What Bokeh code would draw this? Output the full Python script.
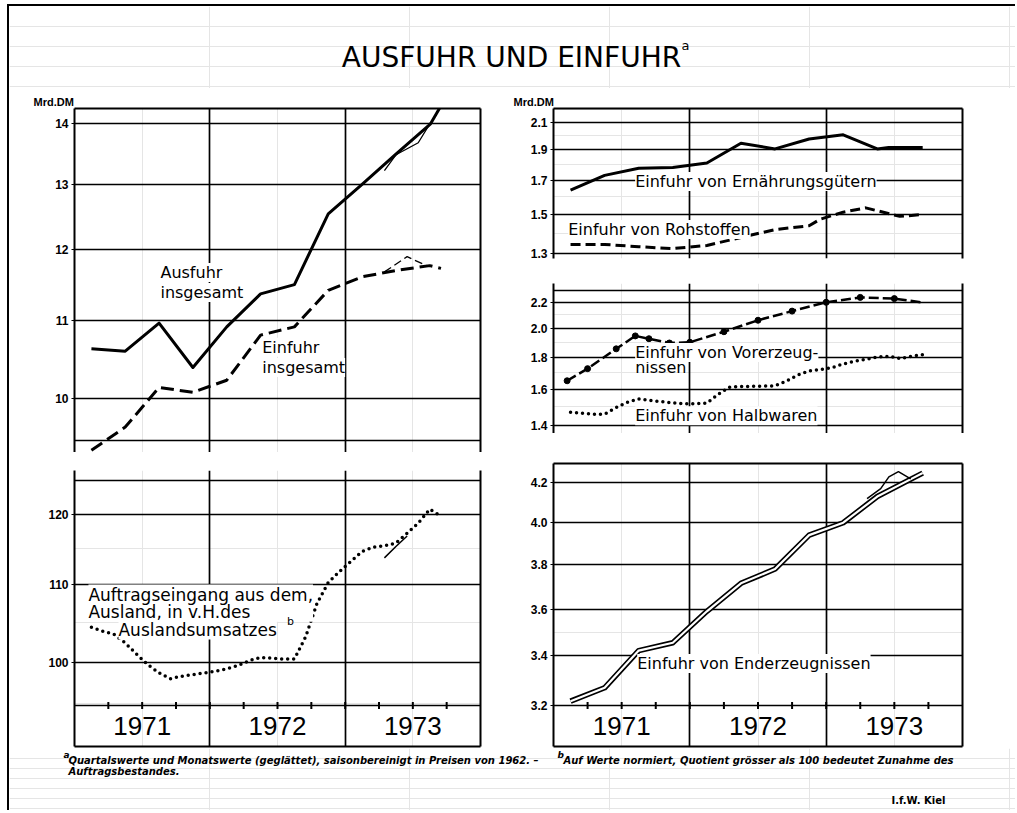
from bokeh.plotting import figure
from bokeh.layouts import column, row
from bokeh.models import (Range1d, FixedTicker, LogAxis, LinearAxis, Label, Grid, Div, Spacer,
                          PrintfTickFormatter)
from bokeh.core.properties import value
from bokeh.embed import file_html
from bokeh.resources import INLINE

LABEL_FONT = "DejaVu Sans"
AX_FONT = "Liberation Sans"

# ---------------- data ----------------
years = [1971, 1972, 1973]
year_labels = ["1971", "1972", "1973"]

# monthly time points Feb 1971 .. Sep 1973 (mid-month, decimal years)
months = [1971 + (k + 0.5) / 12 for k in range(1, 33)]

# Ausfuhr insgesamt (Mrd. DM)
ausfuhr_t = [1971.125, 1971.375, 1971.625, 1971.875, 1972.125, 1972.375, 1972.625, 1972.875,
             1973.125, 1973.375, 1973.631, 1973.717]
ausfuhr_v = [10.63, 10.60, 10.97, 10.39, 10.92, 11.37, 11.50, 12.54, 13.00, 13.49, 14.00, 14.35]
ausfuhr_m_t = [1973.29, 1973.375, 1973.458, 1973.54, 1973.631]
ausfuhr_m_v = [13.22, 13.48, 13.58, 13.68, 14.02]

# Einfuhr insgesamt (Mrd. DM)
einfuhr_t = [1971.125, 1971.375, 1971.625, 1971.875, 1972.125, 1972.375, 1972.625, 1972.875,
             1973.125, 1973.375, 1973.625, 1973.708]
einfuhr_v = [9.39, 9.66, 10.14, 10.08, 10.23, 10.81, 10.92, 11.42, 11.61, 11.70, 11.77, 11.73]
einfuhr_m_t = [1973.29, 1973.458, 1973.60]
einfuhr_m_v = [11.68, 11.90, 11.77]

# Auftragseingang aus dem Ausland in v.H. des Auslandsumsatzes (monthly, Feb 71 - Sep 73)
auftrag_v = [104.4, 103.9, 103.5, 102.4, 101.0, 99.7, 98.7, 98.0, 98.3, 98.5, 98.7, 98.9,
             99.2, 99.6, 100.2, 100.6, 100.5, 100.4, 100.4, 103.2, 107.5, 110.3, 111.8, 113.2,
             114.6, 115.2, 115.4, 115.8, 117.2, 118.7, 120.7, 119.7]
auftrag_m_t = [1973.29, 1973.375, 1973.458]
auftrag_m_v = [113.7, 115.3, 116.8]

# Einfuhr von Ernaehrungsguetern
ernaehr_t = [1971.125, 1971.375, 1971.625, 1971.875, 1972.125, 1972.375, 1972.625, 1972.875,
             1973.125, 1973.375, 1973.458, 1973.542, 1973.708]
ernaehr_v = [1.64, 1.73, 1.775, 1.78, 1.81, 1.945, 1.905, 1.975, 2.005, 1.905, 1.915, 1.915, 1.915]

# Einfuhr von Rohstoffen
rohst_t = [1971.125, 1971.375, 1971.625, 1971.875, 1972.125, 1972.375, 1972.625, 1972.875,
           1972.958, 1973.125, 1973.29, 1973.54, 1973.625, 1973.708]
rohst_v = [1.345, 1.345, 1.334, 1.325, 1.34, 1.38, 1.42, 1.44, 1.475, 1.513, 1.537, 1.49, 1.495, 1.50]

# Einfuhr von Vorerzeugnissen
vorerz_t = [1971.1, 1971.25, 1971.46, 1971.6, 1971.7, 1971.85, 1972.0, 1972.25, 1972.5, 1972.75,
            1973.0, 1973.25, 1973.5, 1973.7]
vorerz_v = [1.65, 1.725, 1.855, 1.945, 1.925, 1.895, 1.90, 1.975, 2.06, 2.13, 2.20, 2.24, 2.23, 2.20]

# Einfuhr von Halbwaren (monthly, Feb 71 - Sep 73)
halbw_v = [1.47, 1.465, 1.46, 1.46, 1.495, 1.525, 1.544, 1.535, 1.528, 1.522, 1.517, 1.517,
           1.52, 1.57, 1.612, 1.615, 1.617, 1.618, 1.62, 1.648, 1.685, 1.71, 1.72, 1.73,
           1.755, 1.772, 1.785, 1.80, 1.805, 1.79, 1.805, 1.815]

# Einfuhr von Enderzeugnissen
enderz_t = [1971.125, 1971.375, 1971.625, 1971.875, 1972.125, 1972.375, 1972.625, 1972.875,
            1973.125, 1973.375, 1973.625, 1973.708]
enderz_v = [3.217, 3.27, 3.422, 3.455, 3.59, 3.715, 3.78, 3.94, 4.0, 4.13, 4.22, 4.25]
enderz_m_t = [1973.3, 1973.4, 1973.46, 1973.53, 1973.62]
enderz_m_v = [4.12, 4.17, 4.23, 4.258, 4.22]

# axis ticks / labels
ul_grid = [9.5, 10, 11, 12, 13, 14]
ul_labels = [10, 11, 12, 13, 14]
ll_band_top = 94.82           # time axis line of the lower-left panel
ll_grid = [ll_band_top, 100, 110, 120, 125]
ll_labels = [100, 110, 120]
ur_grid = [1.3, 1.5, 1.7, 1.9, 2.1]
ur_labels = [1.3, 1.5, 1.7, 1.9, 2.1]
mr_grid = [1.4, 1.6, 1.8, 2.0, 2.2, 2.3]
mr_labels = [1.4, 1.6, 1.8, 2.0, 2.2]
lr_band_top = 3.2             # time axis line of the lower-right panel
lr_grid = [3.2, 3.4, 3.6, 3.8, 4.0, 4.2]
lr_labels = [3.2, 3.4, 3.6, 3.8, 4.0, 4.2]

X0, X1 = years[0], years[-1] + 1
year_bounds = years[1:]
quarter_ticks = [y + q / 4 for y in years for q in range(4)][1:]


# ---------------- helpers ----------------
def bare_axis(cls):
    return cls(ticker=FixedTicker(ticks=[]), axis_line_color="black", axis_line_width=2,
               major_tick_in=0, major_tick_out=0, minor_tick_in=0, minor_tick_out=0,
               major_label_text_font_size="0px", major_label_standoff=0)


def panel(w, h, y_lo, y_hi, grid_vals, label_vals, fmt, mbl, mbr, mbt, mbb,
          top=False, bottom=False, unit=None, unit_offset=0):
    p = figure(width=w, height=h, x_range=Range1d(X0, X1), y_range=Range1d(y_lo, y_hi),
               y_axis_type="log", x_axis_location=None, y_axis_location=None,
               output_backend="svg", toolbar_location=None, title=unit,
               min_border_left=mbl, min_border_right=mbr, min_border_top=mbt,
               min_border_bottom=mbb, outline_line_color=None)
    p.add_layout(Grid(dimension=1, ticker=FixedTicker(ticks=grid_vals),
                      grid_line_color="black", grid_line_width=1.7))
    p.add_layout(Grid(dimension=0, ticker=FixedTicker(ticks=year_bounds),
                      grid_line_color="black", grid_line_width=1.7))
    yax = LogAxis(ticker=FixedTicker(ticks=label_vals), formatter=PrintfTickFormatter(format=fmt),
                  axis_line_width=2, major_tick_out=3, major_tick_in=0,
                  minor_tick_in=0, minor_tick_out=0, major_label_standoff=3,
                  major_label_text_font=AX_FONT, major_label_text_font_style="bold",
                  major_label_text_font_size="12px", major_label_text_color="black")
    p.add_layout(yax, "left")
    p.add_layout(bare_axis(LogAxis), "right")
    if top:
        p.add_layout(bare_axis(LinearAxis), "above")
    if bottom:
        p.add_layout(bare_axis(LinearAxis), "below")
    if unit:
        p.title.align = "left"
        p.title.offset = unit_offset
        p.title.standoff = 2
        p.title.text_font = AX_FONT
        p.title.text_font_size = "11px"
        p.title.text_font_style = "bold"
        p.title.text_color = "black"
    return p


def time_band(p, base, y_lo, frame_h):
    """Quarter ticks on the time-axis line and year labels in the band below it."""
    f = (p.y_range.end / y_lo) ** (3.5 / frame_h)   # 3.5 px in data units (log scale)
    p.segment(x0=quarter_ticks, x1=quarter_ticks, y0=[base / f] * len(quarter_ticks),
              y1=[base * f] * len(quarter_ticks), line_color="black", line_width=2)
    mid = (base * y_lo) ** 0.5
    p.text(x=[y + 0.5 for y in years], y=[mid] * len(years), text=year_labels,
           text_align="center", text_baseline="middle", text_font=value(AX_FONT),
           text_font_size="26px", text_color="black")


def label(p, x, y, text, size="16px", baseline="middle", bg="white", lh=1.2):
    p.add_layout(Label(x=x, y=y, text=text, text_font=LABEL_FONT, text_font_size=size,
                       text_baseline=baseline, text_align="left", text_color="black",
                       background_fill_color=bg, text_line_height=lh))


# ---------------- left column ----------------
ul = panel(501, 364, 9.364, 14.265, ul_grid, ul_labels, "%d", 65, 30, 20, 0,
           top=True, unit="Mrd.DM", unit_offset=-41)
ul.line(ausfuhr_t, ausfuhr_v, line_color="black", line_width=3, line_join="round")
ul.line(ausfuhr_m_t, ausfuhr_m_v, line_color="black", line_width=1.3)
ul.line(einfuhr_t, einfuhr_v, line_color="black", line_width=3, line_dash="13 6")
ul.line(einfuhr_m_t, einfuhr_m_v, line_color="black", line_width=1.3, line_dash="8 4")
label(ul, 1971.635, 11.67, "Ausfuhr")
label(ul, 1971.635, 11.39, "insgesamt")
label(ul, 1972.387, 10.65, "Einfuhr")
label(ul, 1972.387, 10.39, "insgesamt")

LL_LO = 90.16
ll = panel(501, 296, LL_LO, 126.6, ll_grid, ll_labels, "%d", 65, 30, 18, 2, bottom=True)
ll.line(months, auftrag_v, line_color="black", line_width=3.5, line_dash="0 6", line_cap="round")
ll.line(auftrag_m_t, auftrag_m_v, line_color="black", line_width=1.5)
time_band(ll, ll_band_top, LL_LO, 276)
label(ll, 1971.325, 104.1, "Auslandsumsatzes", size="17px")
label(ll, 1971.103, 110.03, "Auftragseingang aus dem,\nAusland, in v.H.des", size="17px",
      baseline="top", lh=0.86)
label(ll, 1972.57, 105.2, "b", size="11px", bg=None)

# ---------------- right column ----------------
ur = panel(499, 174, 1.278, 2.207, ur_grid, ur_labels, "%.1f", 43, 47, 20, 4,
           top=True, unit="Mrd.DM", unit_offset=-40)
ur.line(ernaehr_t, ernaehr_v, line_color="black", line_width=3, line_join="round")
ur.line(rohst_t, rohst_v, line_color="black", line_width=3, line_dash="10 5")
label(ur, 1971.599, 1.692, "Einfuhr von Ernährungsgütern")
label(ur, 1971.108, 1.42, "Einfuhr von Rohstoffen")

mr = panel(499, 171, 1.36, 2.357, mr_grid, mr_labels, "%.1f", 43, 47, 21, 0)
mr.line(vorerz_t, vorerz_v, line_color="black", line_width=2.5, line_dash="10 4")
mr.scatter(vorerz_t[:-1], vorerz_v[:-1], size=6, color="black")
mr.line(months, halbw_v, line_color="black", line_width=3.5, line_dash="0 6", line_cap="round")
label(mr, 1971.599, 1.7317, "nissen", bg=None)
label(mr, 1971.599, 1.8295, "Einfuhr von Vorerzeug-")
label(mr, 1971.599, 1.452, "Einfuhr von Halbwaren")

LR_LO = 3.0438
lr = panel(499, 315, LR_LO, 4.30, lr_grid, lr_labels, "%.1f", 43, 47, 30, 2, top=True, bottom=True)
lr.line(enderz_t, enderz_v, line_color="black", line_width=5.5, line_join="round")
lr.line(enderz_t, enderz_v, line_color="white", line_width=2.2, line_join="round")
lr.line(enderz_m_t, enderz_m_v, line_color="black", line_width=1.5)
time_band(lr, lr_band_top, LR_LO, 283)
label(lr, 1971.614, 3.368, "Einfuhr von Enderzeugnissen")

# ---------------- header / footer ----------------
header = figure(width=1006, height=82, x_range=Range1d(0, 1006), y_range=Range1d(82, 0),
                x_axis_location=None, y_axis_location=None, output_backend="svg",
                toolbar_location=None, min_border=0, outline_line_color=None)
header.add_layout(Label(x=502, y=51, text="AUSFUHR UND EINFUHR", text_align="center",
                        text_baseline="middle", text_font=LABEL_FONT, text_font_size="28px",
                        text_color="black"))
header.add_layout(Label(x=672, y=39, text="a", text_align="left", text_baseline="middle",
                        text_font=LABEL_FONT, text_font_size="13px", text_color="black"))

footer = figure(width=1006, height=62, x_range=Range1d(0, 1006), y_range=Range1d(62, 0),
                x_axis_location=None, y_axis_location=None, output_backend="svg",
                toolbar_location=None, min_border=0, outline_line_color=None)
fn_kw = dict(text_font=LABEL_FONT, text_font_size="10px", text_font_style="bold italic",
             text_baseline="middle", text_align="left", text_color="black")
sup_kw = dict(fn_kw, text_font_size="9px")
footer.add_layout(Label(x=54, y=6, text="a", **sup_kw))
footer.add_layout(Label(x=59, y=12, text="Quartalswerte und Monatswerte (geglättet), saisonbereinigt in Preisen von 1962. –", **fn_kw))
footer.add_layout(Label(x=548, y=6, text="b", **sup_kw))
footer.add_layout(Label(x=554, y=12, text="Auf Werte normiert, Quotient grösser als 100 bedeutet Zunahme des", **fn_kw))
footer.add_layout(Label(x=59, y=23, text="Auftragsbestandes.", **fn_kw))
footer.add_layout(Label(x=936, y=52, text="I.f.W. Kiel", text_font=LABEL_FONT, text_font_size="10px",
                        text_font_style="bold", text_baseline="middle", text_align="right",
                        text_color="black"))

topline = Div(text="", width=1006, height=2, margin=0, styles={"background-color": "black"})
leftline = Div(text="", width=2, height=806, margin=0, styles={"background-color": "black"})

body = row(column(ul, ll), column(ur, mr, lr))
main = column(topline, header, body, footer)
page = column(Spacer(width=1015, height=4), row(Spacer(width=7, height=806), leftline, main))

open("out.html", "w").write(file_html(page, INLINE))
